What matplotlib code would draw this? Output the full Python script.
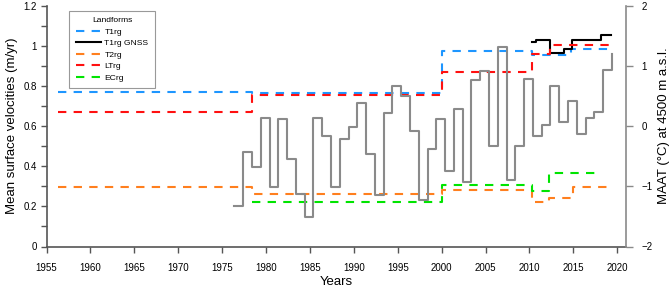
import numpy as np
import matplotlib
matplotlib.use("Agg")
import matplotlib.pyplot as plt

plt.rcParams['font.family'] = ['Liberation Sans', 'DejaVu Sans']

# rock glacier velocity series (m/yr), step edges in years
t1_edges = [1956.3, 1978.4, 2000.1, 2010.3, 2014.7, 2019.3]
t1_vals = [0.768, 0.763, 0.972, 0.953, 0.983]

gnss_edges = [2010.3, 2010.8, 2012.3, 2013.9, 2014.9, 2018.1, 2019.3]
gnss_vals = [1.020, 1.030, 0.962, 0.983, 1.030, 1.053]

t2_edges = [1956.3, 1978.4, 2000.1, 2010.3, 2012.2, 2015.0, 2019.3]
t2_vals = [0.295, 0.260, 0.283, 0.222, 0.243, 0.297]

lt_edges = [1956.3, 1978.4, 2000.1, 2010.3, 2012.3, 2019.3]
lt_vals = [0.672, 0.755, 0.867, 0.960, 1.005]

ec_edges = [1978.4, 2000.1, 2010.3, 2012.2, 2018.2]
ec_vals = [0.222, 0.305, 0.277, 0.367]

# mean annual air temperature at 4500 m (degC)
maat_years = np.arange(1977, 2021)
maat = [-1.33, -0.43, -0.68, 0.14, -1.02, 0.11, -0.54, -1.13, -1.51, 0.14,
        -0.17, -1.02, -0.22, -0.01, 0.39, -0.46, -1.14, 0.22, 0.67, 0.49,
        -0.08, -1.22, -0.38, 0.11, -0.75, 0.29, -0.93, 0.76, 0.91, -0.33,
        1.31, -0.90, -0.33, 0.78, -0.17, 0.02, 0.67, 0.06, 0.41, -0.14,
        0.13, 0.24, 0.93, 1.20]

series = [
    ("T1rg", t1_edges, t1_vals, "#1e96ff", (4, 3.5)),
    ("T1rg GNSS", gnss_edges, gnss_vals, "black", None),
    ("T2rg", t2_edges, t2_vals, "#ff7f1e", (4, 3.5)),
    ("LTrg", lt_edges, lt_vals, "#ff1010", (4, 3.5)),
    ("ECrg", ec_edges, ec_vals, "#00e400", (4, 3.5)),
]

fig = plt.figure(figsize=(6.71, 2.88), dpi=100)
ax = fig.add_axes([46.5 / 671, 41.5 / 288, 579.5 / 671, 241 / 288])
ax2 = ax.twinx()

for name, edges, vals, col, dash in series:
    y = list(vals) + [vals[-1]]
    line, = ax.plot(edges, y, drawstyle='steps-post', color=col, lw=1.5,
                    label=name)
    if dash is not None:
        line.set_dashes(dash)

ax2.plot(maat_years - 0.6, maat, drawstyle='steps-post', color='#8a8a8a',
         lw=1.5, zorder=1)

ax.set_xlim(1955, 2021)
ax.set_ylim(0, 1.2)
ax2.set_ylim(-2, 2)

ax.set_xticks(np.arange(1955, 2021, 5))
ax.set_yticks(np.arange(0, 1.21, 0.1))
ax.set_yticklabels(['0', '', '0.2', '', '0.4', '', '0.6', '', '0.8', '', '1', '', '1.2'])
ax2.set_yticks([-2, -1, 0, 1, 2])

dark = '#555555'
for s in ['top', 'right']:
    ax.spines[s].set_visible(False)
for s in ['top', 'left', 'bottom']:
    ax2.spines[s].set_visible(False)
ax.spines['left'].set_color(dark)
ax.spines['bottom'].set_color(dark)
ax2.spines['right'].set_color('#8a8a8a')
for sp in list(ax.spines.values()) + list(ax2.spines.values()):
    sp.set_linewidth(1.2)

ax.tick_params(axis='x', length=4, width=1, color=dark, labelsize=7, pad=8)
ax.tick_params(axis='y', length=4, width=1, color=dark, labelsize=7, pad=3)
ax2.tick_params(axis='y', length=5, width=1, color='#8a8a8a', labelsize=7, pad=6)

ax.set_xlabel("Years", fontsize=9.5, labelpad=2)
ax.set_ylabel("Mean surface velocities (m/yr)", fontsize=9.5, labelpad=4)
ax2.set_ylabel("MAAT (°C) at 4500 m a.s.l.", fontsize=9.5, labelpad=4)

leg = ax.legend(loc='upper left', bbox_to_anchor=(0.032, 0.995), title="Landforms",
                fontsize=6.1, title_fontsize=6.1, handlelength=3.0,
                handletextpad=0.4, labelspacing=0.42, borderpad=0.75,
                fancybox=False, framealpha=1)
leg.get_frame().set_edgecolor('#999999')
leg.get_frame().set_linewidth(0.8)

fig.savefig("out.png", dpi=100)
